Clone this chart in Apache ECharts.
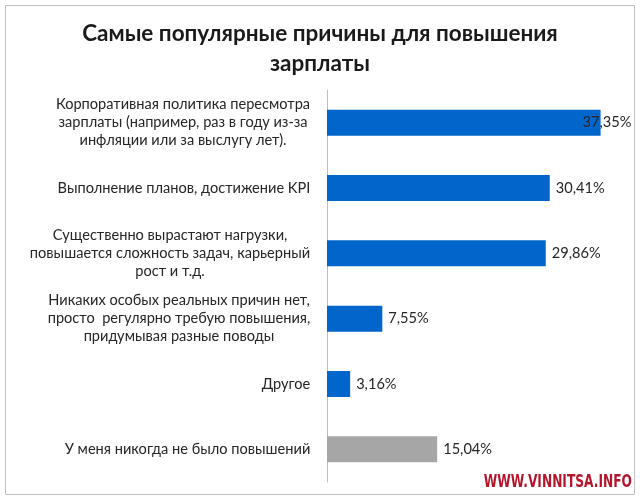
<!DOCTYPE html>
<html>
<head>
<meta charset="utf-8">
<script src="https://cdn.jsdelivr.net/npm/echarts@6/dist/echarts.min.js"></script>
<style>
  html, body { margin: 0; padding: 0; background: #fff; }
  #chart { width: 640px; height: 498px; }
</style>
</head>
<body>
<div id="chart"></div>
<script>
const titleText = 'Самые популярные причины для повышения\nзарплаты';

// one entry per bar, lines of the category label
const categories = [
  ['Корпоративная политика пересмотра', 'зарплаты (например, раз в году из-за', 'инфляции или за выслугу лет).'],
  ['Выполнение планов, достижение KPI'],
  ['Существенно вырастают нагрузки,', 'повышается сложность задач, карьерный', 'рост и т.д.'],
  ['Никаких особых реальных причин нет,', 'просто  регулярно требую повышения,', 'придумывая разные поводы'],
  ['Другое'],
  ['У меня никогда не было повышений']
];
const values = [37.35, 30.41, 29.86, 7.55, 3.16, 15.04];
const barColors = ['#0066cc', '#0066cc', '#0066cc', '#0066cc', '#0066cc', '#a6a6a6'];

const labelFont = '"Lato", "Noto Sans", sans-serif';
const labelSize = 14.6;

// measure the widest line of each label so lines can be centred inside a right-aligned block
const ctx = document.createElement('canvas').getContext('2d');
ctx.font = labelSize + 'px ' + labelFont;
const rich = {};
categories.forEach((lines, i) => {
  const w = Math.max(...lines.map(l => ctx.measureText(l).width));
  rich['c' + i] = {
    width: Math.ceil(w) + 1,
    align: 'center',
    fontSize: labelSize,
    fontFamily: labelFont,
    color: '#262626',
    lineHeight: 18
  };
});

const chart = echarts.init(document.getElementById('chart'));

chart.setOption({
  backgroundColor: '#fff',
  animation: false,
  title: {
    text: titleText,
    left: 'center',
    top: 14,
    textStyle: {
      fontFamily: labelFont,
      fontSize: 22.5,
      fontWeight: 'bold',
      lineHeight: 30,
      color: '#1a1a1a'
    }
  },
  grid: { left: 327, top: 90, width: 293, height: 392 },
  xAxis: {
    type: 'value',
    min: 0,
    max: 40,
    show: false
  },
  yAxis: {
    type: 'category',
    inverse: true,
    data: categories.map((c, i) => i),
    axisLine: { lineStyle: { color: '#bfbfbf', width: 1 } },
    axisTick: { show: false },
    axisLabel: {
      margin: 16,
      formatter: (v, i) => categories[i].map(l => '{c' + i + '|' + l + '}').join('\n'),
      rich: rich
    }
  },
  series: [{
    type: 'bar',
    barWidth: 26,
    data: values.map((v, i) => ({
      value: v,
      itemStyle: { color: barColors[i] },
      label: i === 0 ? { offset: [-24, 0] } : {}
    })),
    label: {
      show: true,
      position: 'right',
      distance: 6,
      fontFamily: labelFont,
      fontSize: 14.6,
      color: '#262626',
      formatter: p => p.value.toFixed(2).replace('.', ',') + '%'
    }
  }],
  graphic: [
    {
      type: 'rect',
      shape: { x: 5.5, y: 5.5, width: 629, height: 489 },
      style: { fill: null, stroke: '#bfbfbf', lineWidth: 1 }
    },
    {
      type: 'text',
      x: 632,
      y: 483,
      scaleX: 0.8,
      style: {
        text: 'WWW.VINNITSA.INFO',
        font: 'bold 17px "DejaVu Sans Condensed", "Liberation Sans", sans-serif',
        fill: '#b5152b',
        align: 'right',
        verticalAlign: 'middle'
      }
    }
  ]
});
</script>
</body>
</html>
